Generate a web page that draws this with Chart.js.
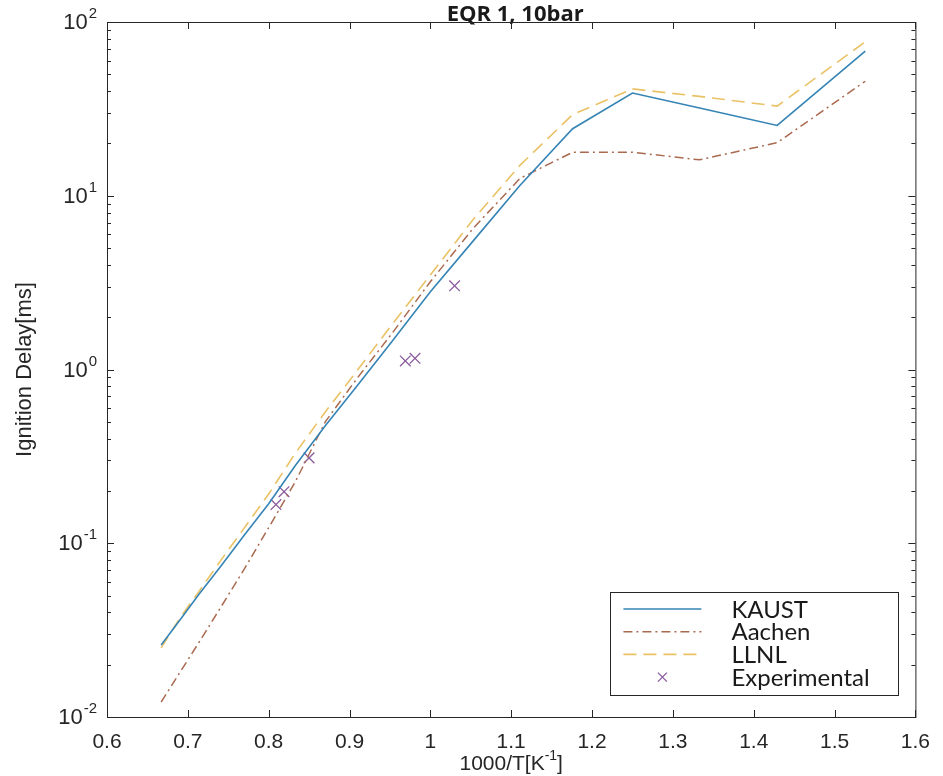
<!DOCTYPE html>
<html>
<head>
<meta charset="utf-8">
<script src="https://cdn.jsdelivr.net/npm/chart.js@4.4.0/dist/chart.umd.min.js"></script>
<style>
html, body { margin: 0; padding: 0; background: #fff; }
#wrap { width: 943px; height: 776px; }
</style>
</head>
<body>
<div id="wrap"><canvas id="myChart"></canvas></div>
<script>
// 1000/T values (T = 1500 K down to 650 K)
const invT = [0.667, 0.690, 0.714, 0.741, 0.769, 0.800, 0.833, 0.870, 0.909, 0.952,
              1.000, 1.053, 1.111, 1.176, 1.250, 1.333, 1.429, 1.538];
const kaust = [0.026, 0.036, 0.051, 0.074, 0.11, 0.169, 0.28, 0.475, 0.80, 1.44,
               2.8, 5.5, 11.5, 24.3, 39, 32, 25.4, 68];
const aachen = [0.0122, 0.018, 0.027, 0.043, 0.07, 0.123, 0.226, 0.50, 0.885, 1.6,
                3.2, 6.5, 12.6, 17.8, 17.8, 16.1, 20.2, 45.6];
const llnl = [0.025, 0.037, 0.053, 0.080, 0.121, 0.192, 0.33, 0.57, 0.98, 1.8,
              3.5, 7.3, 15, 29.3, 41.2, 37.3, 32.8, 77];
const expX = [0.809, 0.819, 0.85, 0.969, 0.981, 1.030];
const expY = [0.167, 0.198, 0.31, 1.12, 1.16, 3.03];
const xTicks = [0.6, 0.7, 0.8, 0.9, 1, 1.1, 1.2, 1.3, 1.4, 1.5, 1.6];
const decades = [-2, -1, 0, 1, 2];
const chartTitle = 'EQR 1, 10bar';

const axisColor = '#262626';
const tickFont = 'Liberation Sans, Arial, sans-serif';

const pts = (xs, ys) => xs.map((x, i) => ({ x: x, y: ys[i] }));

// title, box, inward ticks, y labels with exponents, x title
const frame = {
    id: 'frame',
    afterDatasetsDraw(chart) {
        const c = chart.ctx, a = chart.chartArea;
        const xs = chart.scales.x, ys = chart.scales.y;
        c.save();
        c.fillStyle = '#1a1a1a';
        c.font = 'bold 22px Open Sans, sans-serif';
        c.textAlign = 'center';
        c.textBaseline = 'middle';
        c.fillText(chartTitle, (a.left + a.right) / 2 + 4, 15);

        c.strokeStyle = axisColor;
        c.lineWidth = 1;
        c.strokeRect(a.left + 0.5, a.top + 0.5, a.right - a.left, a.bottom - a.top);
        c.beginPath();
        xTicks.forEach(v => {
            const px = Math.round(xs.getPixelForValue(v)) + 0.5;
            c.moveTo(px, a.bottom); c.lineTo(px, a.bottom - 7);
            c.moveTo(px, a.top); c.lineTo(px, a.top + 7);
        });
        decades.forEach(e => {
            for (let m = 1; m <= 9; m++) {
                if (e === 2 && m > 1) break;
                const py = Math.round(ys.getPixelForValue(m * Math.pow(10, e))) + 0.5;
                const len = m === 1 ? 7 : 4;
                c.moveTo(a.left, py); c.lineTo(a.left + len, py);
                c.moveTo(a.right, py); c.lineTo(a.right - len, py);
            }
        });
        c.stroke();

        // y tick labels 10^n
        c.fillStyle = axisColor;
        c.textBaseline = 'middle';
        c.textAlign = 'right';
        decades.forEach(e => {
            const py = ys.getPixelForValue(Math.pow(10, e));
            const ex = String(e);
            c.font = '15px ' + tickFont;
            const ew = c.measureText(ex).width;
            c.fillText(ex, a.left - 10, py - 8);
            c.font = '22px ' + tickFont;
            c.fillText('10', a.left - 11 - ew, py + 1);
        });

        // x axis title 1000/T[K^-1]
        const main = '1000/T[K', sup = '-1', end = ']';
        c.font = '21px ' + tickFont;
        const w1 = c.measureText(main).width, w3 = c.measureText(end).width;
        c.font = '14px ' + tickFont;
        const w2 = c.measureText(sup).width;
        let x = (a.left + a.right) / 2 - (w1 + w2 + w3) / 2;
        const base = a.bottom + 53;
        c.textAlign = 'left';
        c.textBaseline = 'alphabetic';
        c.font = '21px ' + tickFont;
        c.fillText(main, x, base);
        c.font = '14px ' + tickFont;
        c.fillText(sup, x + w1, base - 10);
        c.font = '21px ' + tickFont;
        c.fillText(end, x + w1 + w2, base);
        c.restore();
    }
};

const legendBox = {
    id: 'legendBox',
    afterDraw(chart) {
        const c = chart.ctx, a = chart.chartArea;
        const w = 288, h = 103;
        const x0 = a.right - 17 - w, y0 = a.bottom - 22 - h;
        c.save();
        c.fillStyle = '#fff';
        c.fillRect(x0, y0, w, h);
        c.strokeStyle = axisColor;
        c.lineWidth = 1;
        c.strokeRect(Math.round(x0) + 0.5, Math.round(y0) + 0.5, w, h);
        chart.data.datasets.forEach((ds, i) => {
            const y = y0 + 17 + i * 22.7;
            c.strokeStyle = ds.borderColor;
            c.lineWidth = ds.borderWidth;
            if (ds.showLine === false) {
                const cx = x0 + 52, r = 4.5;
                c.setLineDash([]);
                c.beginPath();
                c.moveTo(cx - r, y - r); c.lineTo(cx + r, y + r);
                c.moveTo(cx - r, y + r); c.lineTo(cx + r, y - r);
                c.stroke();
            } else {
                c.setLineDash(ds.borderDash || []);
                c.beginPath();
                c.moveTo(x0 + 13, y); c.lineTo(x0 + 91, y);
                c.stroke();
            }
            c.setLineDash([]);
            c.fillStyle = '#1a1a1a';
            c.font = '24px Lato, sans-serif';
            c.textBaseline = 'middle';
            c.textAlign = 'left';
            c.fillText(ds.label, x0 + 121, y + 1);
        });
        c.restore();
    }
};

const ctx = document.getElementById('myChart');
const myChart = new Chart(ctx, {
    type: 'line',
    data: {
        datasets: [{
            label: 'KAUST',
            data: pts(invT, kaust),
            borderColor: '#3584b5',
            borderWidth: 1.6,
            pointRadius: 0,
            tension: 0
        }, {
            label: 'Aachen',
            data: pts(invT, aachen),
            borderColor: '#a96a50',
            borderWidth: 1.5,
            borderDash: [9, 4, 2, 4],
            pointRadius: 0,
            tension: 0
        }, {
            label: 'LLNL',
            data: pts(invT, llnl),
            borderColor: '#eac266',
            borderWidth: 1.6,
            borderDash: [13, 7],
            pointRadius: 0,
            tension: 0
        }, {
            label: 'Experimental',
            data: pts(expX, expY),
            showLine: false,
            borderColor: '#8a5a9c',
            borderWidth: 1.3,
            pointStyle: 'crossRot',
            pointRadius: 7.5,
            pointBorderWidth: 1.3
        }]
    },
    options: {
        responsive: true,
        maintainAspectRatio: false,
        animation: false,
        layout: {
            padding: { left: 0, right: 22, top: 22, bottom: 0 }
        },
        plugins: {
            legend: { display: false },
            tooltip: { enabled: false },
            title: { display: false }
        },
        scales: {
            x: {
                type: 'linear',
                min: 0.6,
                max: 1.6,
                grid: { display: false, drawTicks: false },
                border: { display: false },
                ticks: {
                    stepSize: 0.1,
                    autoSkip: false,
                    maxRotation: 0,
                    padding: 13,
                    color: axisColor,
                    font: { family: tickFont, size: 21 },
                    callback: v => String(Math.round(v * 10) / 10)
                },
                afterFit(s) { s.height = 59; }
            },
            y: {
                type: 'logarithmic',
                min: 0.01,
                max: 100,
                grid: { display: false, drawTicks: false },
                border: { display: false },
                ticks: { display: false },
                title: {
                    display: true,
                    text: 'Ignition Delay[ms]',
                    color: axisColor,
                    font: { family: tickFont, size: 22 },
                    padding: { top: 12, bottom: 0 }
                },
                afterFit(s) { s.width = 107; }
            }
        }
    },
    plugins: [frame, legendBox]
});
</script>
</body>
</html>
